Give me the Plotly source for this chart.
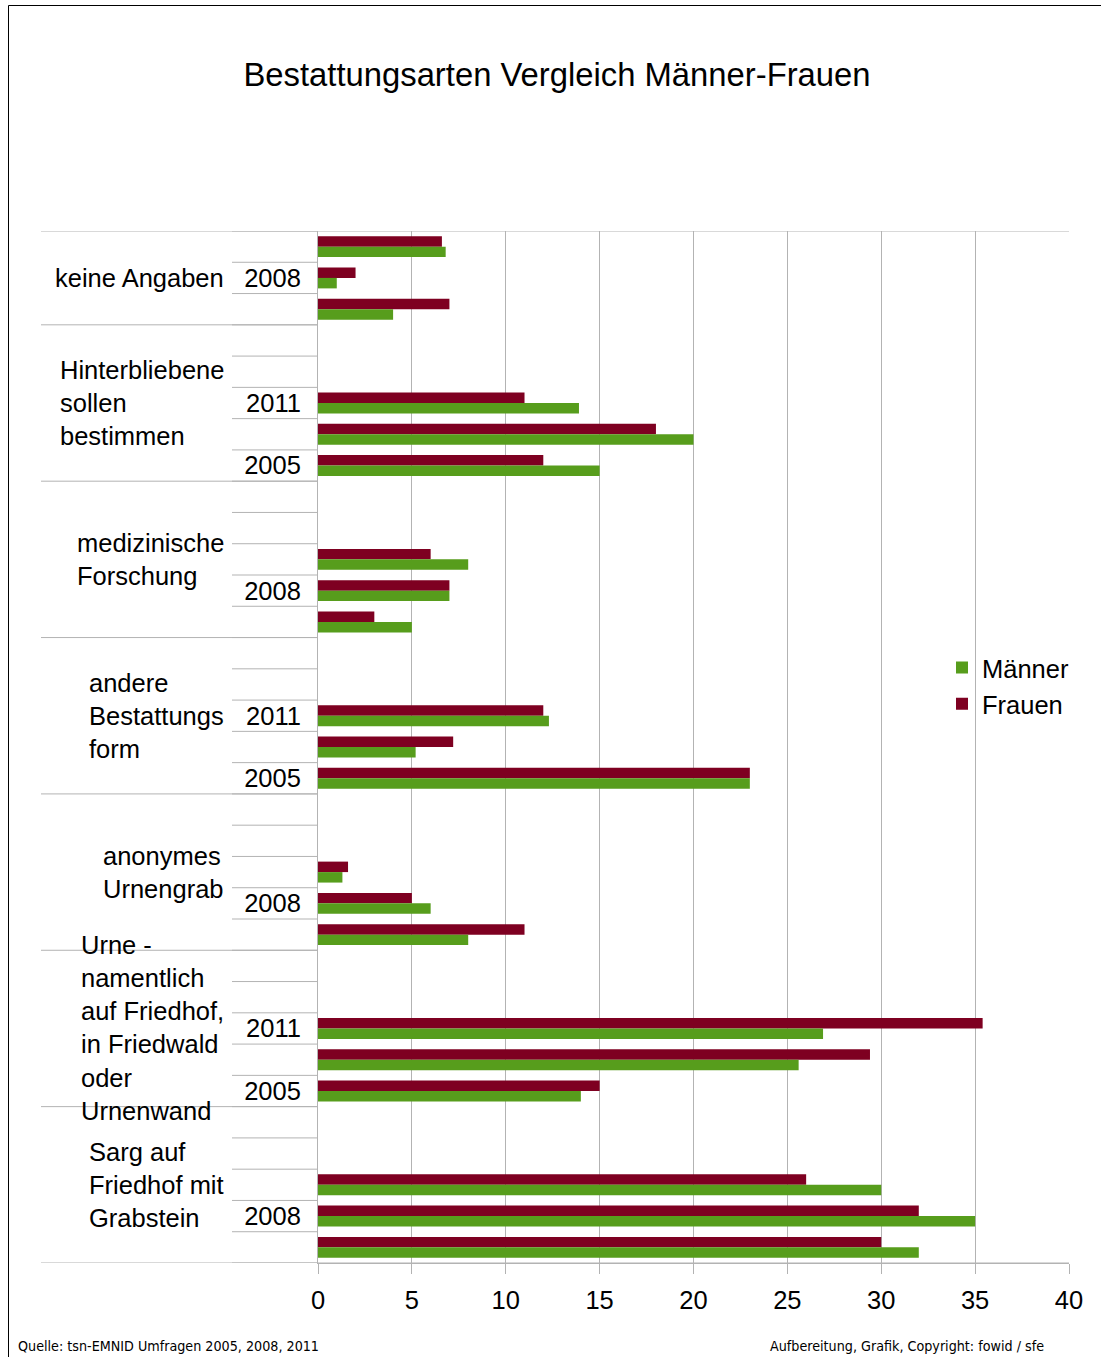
import plotly.graph_objects as go

# ---------------- data ----------------
groups = [
    "keine Angaben",
    "Hinterbliebene<br>sollen<br>bestimmen",
    "medizinische<br>Forschung",
    "andere<br>Bestattungs<br>form",
    "anonymes<br>Urnengrab",
    "Urne -<br>namentlich<br>auf Friedhof,<br>in Friedwald<br>oder<br>Urnenwand",
    "Sarg auf<br>Friedhof mit<br>Grabstein",
]
years = ["2011", "2008", "2005"]

frauen = [
    [6.6, 2.0, 7.0],
    [11.0, 18.0, 12.0],
    [6.0, 7.0, 3.0],
    [12.0, 7.2, 23.0],
    [1.6, 5.0, 11.0],
    [35.4, 29.4, 15.0],
    [26.0, 32.0, 30.0],
]
maenner = [
    [6.8, 1.0, 4.0],
    [13.9, 20.0, 15.0],
    [8.0, 7.0, 5.0],
    [12.3, 5.2, 23.0],
    [1.3, 6.0, 8.0],
    [26.9, 25.6, 14.0],
    [30.0, 35.0, 32.0],
]
x_ticks = [0, 5, 10, 15, 20, 25, 30, 35, 40]
source_text = "Quelle: tsn-EMNID Umfragen 2005, 2008, 2011"
credit_text = "Aufbereitung, Grafik, Copyright: fowid / sfe"
title_text = "Bestattungsarten Vergleich Männer-Frauen"

# ---------------- build category slots ----------------
slots = []          # category keys, top to bottom
slot_year = []      # year per slot ('' for spacer)
group_slots = []    # (first, last) slot index per group
for gi, g in enumerate(groups):
    start = len(slots)
    if gi > 0:
        for k in range(2):
            slots.append(f"g{gi}_spacer{k}")
            slot_year.append("")
    for y in years:
        slots.append(f"g{gi}|{y}")
        slot_year.append(y)
    group_slots.append((start, len(slots) - 1))

bar_y, f_x, m_x = [], [], []
for gi in range(len(groups)):
    for yi, y in enumerate(years):
        bar_y.append(f"g{gi}|{y}")
        f_x.append(frauen[gi][yi])
        m_x.append(maenner[gi][yi])

# only every other category label is shown (as in the original)
tickvals = [s for i, s in enumerate(slots) if slot_year[i] and i % 2 == 1]
ticktext = [slot_year[i] for i, s in enumerate(slots) if slot_year[i] and i % 2 == 1]

FONT = "Liberation Sans, Arial, sans-serif"
NARROW = "DejaVu Sans Condensed, Liberation Sans, sans-serif"
RED = "#7e0021"
GREEN = "#579d1c"
GRID = "#b3b3b3"

W, H = 1101, 1357
L, R, T, B = 318, 32, 231, 94
PW, PH = W - L - R, H - T - B


def px_x(px):
    return (px - L) / PW


def px_y(py):
    return (H - B - py) / PH


fig = go.Figure()
fig.add_trace(go.Bar(y=bar_y, x=f_x, orientation="h", name="Frauen",
                     marker=dict(color=RED, line=dict(width=0)),
                     legendrank=2))
fig.add_trace(go.Bar(y=bar_y, x=m_x, orientation="h", name="Männer",
                     marker=dict(color=GREEN, line=dict(width=0)),
                     legendrank=1))

shapes = []
n = len(slots)
group_bounds = set([-0.5] + [gs[1] + 0.5 for gs in group_slots])
for i in range(n + 1):
    yb = i - 0.5
    shapes.append(dict(type="line", xref="paper", yref="y",
                       x0=px_x(232), x1=0, y0=yb, y1=yb,
                       line=dict(color=GRID, width=1)))
    if yb in group_bounds:
        x1 = 1 if (i == 0 or i == n) else 0
        shapes.append(dict(type="line", xref="paper", yref="y",
                           x0=px_x(41), x1=x1, y0=yb, y1=yb,
                           line=dict(color=GRID, width=1)))
# outer frame (left and top edges)
shapes.append(dict(type="path", xref="paper", yref="paper",
                   path=f"M {px_x(8.5)} {px_y(1400)} L {px_x(8.5)} {px_y(5.5)} L {px_x(1120)} {px_y(5.5)}",
                   line=dict(color="black", width=1)))

annotations = []
for gi, g in enumerate(groups):
    a, b = group_slots[gi]
    annotations.append(dict(text=g, xref="paper", yref="y", x=px_x(226),
                            y=(a + b) / 2, xanchor="right", yanchor="middle",
                            align="left", showarrow=False,
                            font=dict(family=FONT, size=25.5, color="black")))
annotations.append(dict(text=source_text, xref="paper", yref="paper",
                        x=px_x(16), y=px_y(1346), xanchor="left", yanchor="middle",
                        showarrow=False, font=dict(family=NARROW, size=14.2, color="black")))
annotations.append(dict(text=credit_text, xref="paper", yref="paper",
                        x=px_x(768), y=px_y(1346), xanchor="left", yanchor="middle",
                        showarrow=False, font=dict(family=NARROW, size=14.2, color="black")))

fig.update_layout(
    width=W, height=H, autosize=False,
    margin=dict(l=L, r=R, t=T, b=B, pad=0),
    paper_bgcolor="white", plot_bgcolor="white",
    barmode="group", bargap=0.33, bargroupgap=0,
    font=dict(family=FONT, color="black"),
    title=dict(text=title_text, x=557 / W, xref="container", xanchor="center",
               y=1 - 75 / H, yref="container", yanchor="middle",
               font=dict(family=FONT, size=32.8, color="black")),
    xaxis=dict(range=[0, 40], tickvals=x_ticks, showgrid=True, gridcolor=GRID,
               gridwidth=1, zeroline=False, showline=True, linecolor=GRID,
               ticks="outside", ticklen=10, tickcolor=GRID,
               ticklabelstandoff=4,
               tickfont=dict(family=FONT, size=25.5, color="black"),
               fixedrange=True),
    yaxis=dict(type="category", categoryorder="array", categoryarray=slots,
               range=[n - 0.5, -0.5], tickmode="array", tickvals=tickvals,
               ticktext=ticktext, showgrid=False, zeroline=False,
               showline=True, linecolor=GRID, ticks="",
               ticklabelstandoff=11,
               tickfont=dict(family=FONT, size=25.5, color="black"),
               fixedrange=True),
    legend=dict(x=px_x(942), y=px_y(686), xanchor="left", yanchor="middle",
                traceorder="normal", tracegroupgap=0,
                bgcolor="rgba(0,0,0,0)",
                font=dict(family=FONT, size=25.5, color="black")),
    shapes=shapes,
    annotations=annotations,
)

fig.write_html("out.html", config={"displayModeBar": False},
               post_script="document.body.style.margin='0';")
